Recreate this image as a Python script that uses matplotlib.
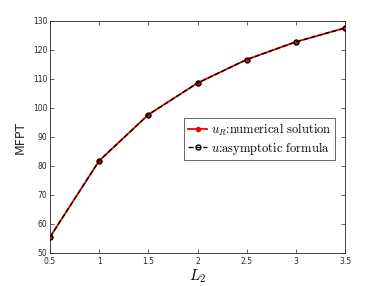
import matplotlib
matplotlib.use("Agg")
import matplotlib.pyplot as plt

plt.rcParams["mathtext.fontset"] = "cm"

L2 = [0.5, 1.0, 1.5, 2.0, 2.5, 3.0, 3.5]
mfpt_numerical = [55.5, 81.8, 97.7, 108.6, 116.7, 122.8, 127.6]
mfpt_asymptotic = [55.5, 81.8, 97.7, 108.6, 116.7, 122.8, 127.6]

fig = plt.figure(figsize=(3.82, 2.86), dpi=100)
ax = fig.add_axes([50 / 382, 1 - 253 / 286, 295 / 382, 232 / 286])

ax.plot(L2, mfpt_numerical, "-", color="red", lw=1.3, marker="o", ms=3,
        mfc="red", mec="red", label=r"$u_R$:numerical solution", zorder=3)
ax.plot(L2, mfpt_asymptotic, "--", color="black", lw=1.0, marker="o", ms=3.5,
        mfc="none", mec="black", mew=1.0, label=r"$u$:asymptotic formula", zorder=4)

ax.set_xlim(0.5, 3.5)
ax.set_ylim(50, 130)
ax.set_xticks([0.5, 1, 1.5, 2, 2.5, 3, 3.5])
ax.set_xticklabels(["0.5", "1", "1.5", "2", "2.5", "3", "3.5"])
ax.set_yticks(range(50, 131, 10))
ax.tick_params(direction="in", top=True, right=True, labelsize=5.5,
               colors="#262626", length=3, width=0.5)
ax.tick_params(axis="x", pad=3)
ax.tick_params(axis="y", pad=2)
for s in ax.spines.values():
    s.set_linewidth(0.6)
    s.set_color("#262626")

ax.set_xlabel(r"$L_2$", fontsize=11, labelpad=1)
ax.set_ylabel("MFPT", fontsize=9, color="#262626", labelpad=4)

leg = ax.legend(loc="upper right", bbox_to_anchor=(0.966, 0.582),
                prop={"family": "cmr10", "size": 9}, fancybox=False,
                handlelength=1.5, handletextpad=0.3, borderpad=0.3,
                labelspacing=0.15, borderaxespad=0)
leg.get_frame().set_edgecolor("#262626")
leg.get_frame().set_linewidth(0.6)

fig.savefig("out.png", dpi=100)
